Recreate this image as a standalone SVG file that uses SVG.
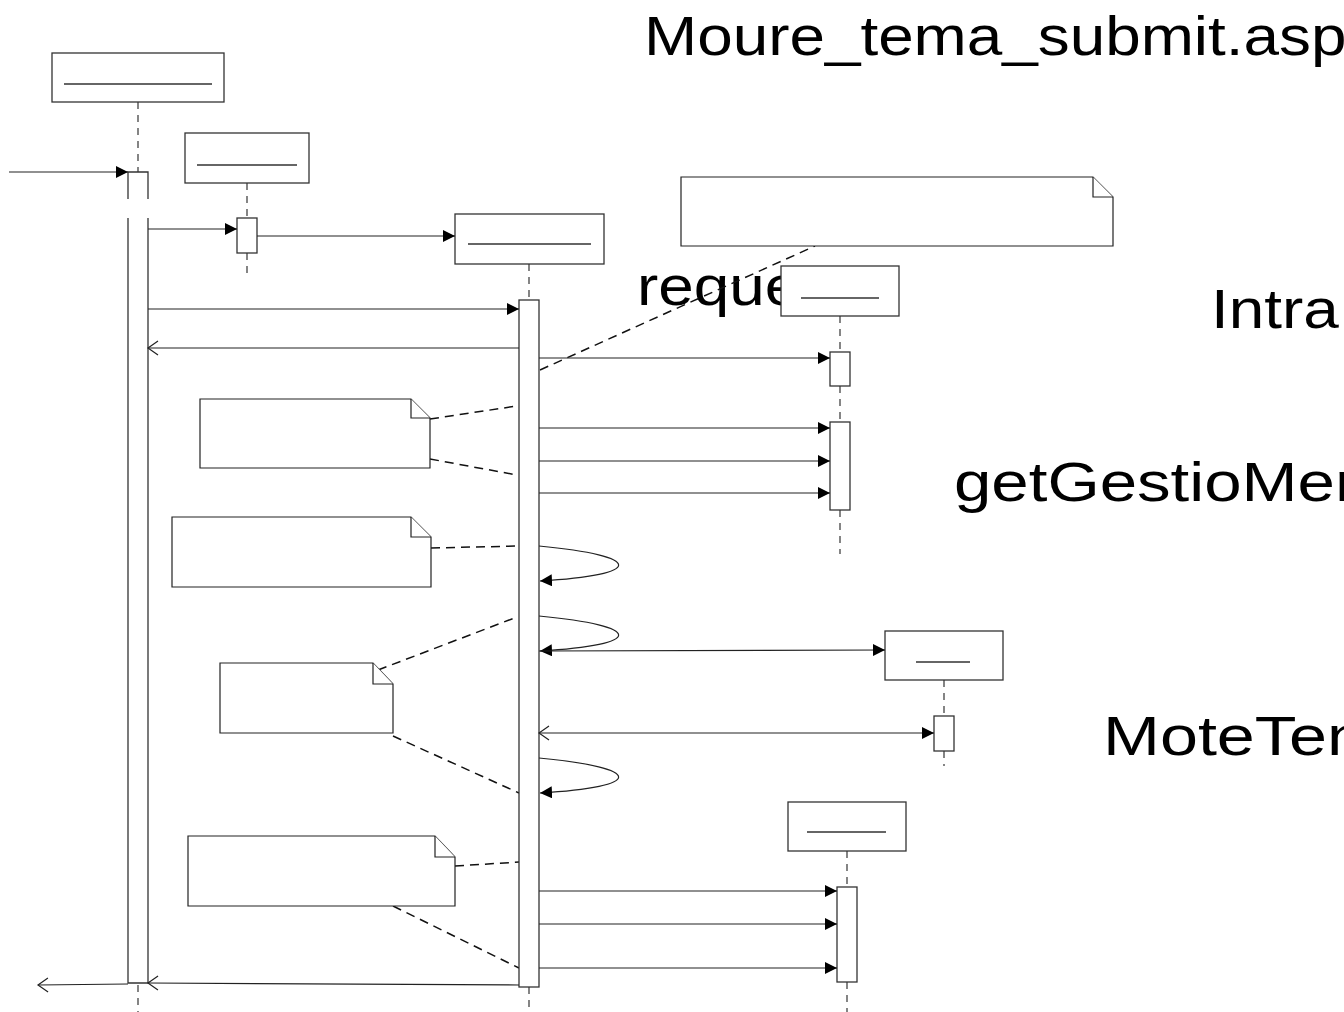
<svg xmlns="http://www.w3.org/2000/svg" width="1344" height="1012" viewBox="0 0 1344 1012">
<defs>
<style>
.box{fill:#fff;stroke:#333;stroke-width:1.3}
.ul{stroke:#333;stroke-width:1.3}
.life{stroke:#444;stroke-width:1.3;stroke-dasharray:7,6;fill:none}
.act{fill:#fff;stroke:#333;stroke-width:1.3}
.msg{stroke:#222;stroke-width:1.2;fill:none}
.note{fill:#fff;stroke:#222;stroke-width:1.2}
.anc{stroke:#111;stroke-width:1.5;stroke-dasharray:9,6;fill:none}
.big{font-family:"Liberation Sans",Arial,sans-serif;font-size:56px;fill:#000}
</style>
<marker id="fill" markerUnits="userSpaceOnUse" markerWidth="14" markerHeight="12" refX="12" refY="6" orient="auto">
<path d="M0,0 L12,6 L0,12 z" fill="#000"/>
</marker>
<marker id="open" markerUnits="userSpaceOnUse" markerWidth="14" markerHeight="16" refX="1" refY="8" orient="auto">
<path d="M11,1 L1,8 L11,15" fill="none" stroke="#222" stroke-width="1.2"/>
</marker>
<marker id="openEnd" markerUnits="userSpaceOnUse" markerWidth="14" markerHeight="16" refX="12" refY="8" orient="auto">
<path d="M2,1 L12,8 L2,15" fill="none" stroke="#222" stroke-width="1.2"/>
</marker>
</defs>
<rect width="1344" height="1012" fill="#fff"/>

<g id="labels">
<text class="big" transform="translate(644,55) scale(1.14,1)">Moure_tema_submit.asp</text>
<text class="big" transform="translate(637,305) scale(1.14,1)">reque</text>
<text class="big" transform="translate(1211,328) scale(1.14,1)">Intra</text>
<text class="big" transform="translate(954,501) scale(1.2,1)">getGestioMen</text>
<text class="big" transform="translate(1103,755) scale(1.22,1)">MoteTen</text>
</g>

<g id="lifelines">
<line class="life" x1="138" y1="102" x2="138" y2="172"/>
<line class="life" x1="138" y1="985" x2="138" y2="1012"/>
<line class="life" x1="247" y1="183" x2="247" y2="218"/>
<line class="life" x1="247" y1="253" x2="247" y2="276"/>
<line class="life" x1="529" y1="264" x2="529" y2="300"/>
<line class="life" x1="529" y1="987" x2="529" y2="1012"/>
<line class="life" x1="840" y1="316" x2="840" y2="352"/>
<line class="life" x1="840" y1="386" x2="840" y2="422"/>
<line class="life" x1="840" y1="510" x2="840" y2="554"/>
<line class="life" x1="944" y1="680" x2="944" y2="716"/>
<line class="life" x1="944" y1="751" x2="944" y2="766"/>
<line class="life" x1="847" y1="851" x2="847" y2="887"/>
<line class="life" x1="847" y1="982" x2="847" y2="1012"/>
</g>

<g id="notes-anchors">
<line class="anc" x1="540" y1="370" x2="815" y2="246"/>
<line class="anc" x1="430" y1="419" x2="517" y2="406"/>
<line class="anc" x1="430" y1="459" x2="517" y2="475"/>
<line class="anc" x1="431" y1="548" x2="519" y2="546"/>
<line class="anc" x1="378" y1="670" x2="517" y2="617"/>
<line class="anc" x1="393" y1="736" x2="519" y2="793"/>
<line class="anc" x1="455" y1="866" x2="519" y2="862"/>
<line class="anc" x1="393" y1="906" x2="519" y2="968"/>
</g>

<g id="nodeA">
<rect class="box" x="52" y="53" width="172" height="49"/>
<line class="ul" x1="64" y1="84" x2="212" y2="84"/>
<rect x="128" y="172" width="20" height="811" fill="#fff"/>
<path class="act" fill="none" d="M128,199 V172 H148 V199 M128,218 V983 H148 V218"/>
</g>

<g id="nodeB">
<rect class="box" x="185" y="133" width="124" height="50"/>
<line class="ul" x1="197" y1="165" x2="297" y2="165"/>
<rect class="act" x="237" y="218" width="20" height="35"/>
</g>

<g id="nodeC">
<rect class="box" x="455" y="214" width="149" height="50"/>
<line class="ul" x1="468" y1="244" x2="591" y2="244"/>
<rect class="act" x="519" y="300" width="20" height="687"/>
</g>

<g id="nodeD">
<rect class="box" x="781" y="266" width="118" height="50"/>
<line class="ul" x1="801" y1="298" x2="879" y2="298"/>
<rect class="act" x="830" y="352" width="20" height="34"/>
<rect class="act" x="830" y="422" width="20" height="88"/>
</g>

<g id="nodeE">
<rect class="box" x="885" y="631" width="118" height="49"/>
<line class="ul" x1="916" y1="662" x2="970" y2="662"/>
<rect class="act" x="934" y="716" width="20" height="35"/>
</g>

<g id="nodeF">
<rect class="box" x="788" y="802" width="118" height="49"/>
<line class="ul" x1="807" y1="832" x2="886" y2="832"/>
<rect class="act" x="837" y="887" width="20" height="95"/>
</g>

<g id="note1">
<path class="note" d="M681,177 H1093 L1113,197 V246 H681 Z"/>
<path class="note" fill="none" d="M1093,177 V197 H1113"/>
</g>
<g id="note2">
<path class="note" d="M200,399 H411 L430,418 V468 H200 Z"/>
<path class="note" fill="none" d="M411,399 V418 H430"/>
</g>
<g id="note3">
<path class="note" d="M172,517 H411 L431,537 V587 H172 Z"/>
<path class="note" fill="none" d="M411,517 V537 H431"/>
</g>
<g id="note4">
<path class="note" d="M220,663 H373 L393,684 V733 H220 Z"/>
<path class="note" fill="none" d="M373,663 V684 H393"/>
</g>
<g id="note5">
<path class="note" d="M188,836 H435 L455,857 V906 H188 Z"/>
<path class="note" fill="none" d="M435,836 V857 H455"/>
</g>

<g id="connectors">
<line class="msg" x1="9" y1="172" x2="128" y2="172" marker-end="url(#fill)"/>
<line class="msg" x1="148" y1="229" x2="237" y2="229" marker-end="url(#fill)"/>
<line class="msg" x1="257" y1="236" x2="455" y2="236" marker-end="url(#fill)"/>
<line class="msg" x1="148" y1="309" x2="519" y2="309" marker-end="url(#fill)"/>
<line class="msg" x1="519" y1="348" x2="148" y2="348" marker-end="url(#openEnd)"/>
<line class="msg" x1="539" y1="358" x2="830" y2="358" marker-end="url(#fill)"/>
<line class="msg" x1="539" y1="428" x2="830" y2="428" marker-end="url(#fill)"/>
<line class="msg" x1="539" y1="461" x2="830" y2="461" marker-end="url(#fill)"/>
<line class="msg" x1="539" y1="493" x2="830" y2="493" marker-end="url(#fill)"/>
<path class="msg" d="M539,546 C645,556 645,575 540,581" marker-end="url(#fill)"/>
<path class="msg" d="M539,616 C645,626 645,645 540,651" marker-end="url(#fill)"/>
<line class="msg" x1="539" y1="651" x2="885" y2="650" marker-end="url(#fill)"/>
<line class="msg" x1="539" y1="733" x2="934" y2="733" marker-start="url(#open)" marker-end="url(#fill)"/>
<path class="msg" d="M539,758 C645,768 645,787 540,793" marker-end="url(#fill)"/>
<line class="msg" x1="539" y1="891" x2="837" y2="891" marker-end="url(#fill)"/>
<line class="msg" x1="539" y1="924" x2="837" y2="924" marker-end="url(#fill)"/>
<line class="msg" x1="539" y1="968" x2="837" y2="968" marker-end="url(#fill)"/>
<line class="msg" x1="519" y1="985" x2="148" y2="983" marker-end="url(#openEnd)"/>
<line class="msg" x1="128" y1="984" x2="38" y2="985" marker-end="url(#openEnd)"/>
</g>
</svg>
